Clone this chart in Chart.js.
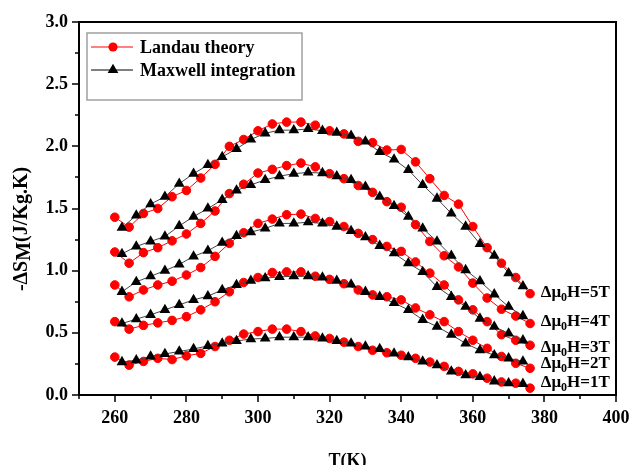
<!DOCTYPE html>
<html>
<head>
<meta charset="utf-8">
<script src="https://cdn.jsdelivr.net/npm/chart.js@4/dist/chart.umd.min.js"></script>
<style>
  html, body { margin: 0; padding: 0; background: #fff; }
  #wrap { width: 634px; height: 465px; position: relative; }
</style>
</head>
<body>
<div id="wrap"><canvas id="ms-chart"></canvas></div>
<script>
// temperatures (K)
const landauT = [260, 264, 268, 272, 276, 280, 284, 288, 292, 296, 300, 304, 308, 312, 316,
                 320, 324, 328, 332, 336, 340, 344, 348, 352, 356, 360, 364, 368, 372, 376];
const maxwellT = [262, 266, 270, 274, 278, 282, 286, 290, 294, 298, 302, 306, 310, 314, 318,
                  322, 326, 330, 334, 338, 342, 346, 350, 354, 358, 362, 366, 370, 374];

// -dS_M (J/kg.K), Landau theory
const landau5T = [1.43, 1.35, 1.46, 1.50, 1.595, 1.645, 1.745, 1.855, 2.00, 2.055, 2.125, 2.18, 2.195, 2.195, 2.17,
                  2.125, 2.10, 2.04, 2.03, 1.97, 1.975, 1.875, 1.74, 1.605, 1.535, 1.355, 1.185, 1.06, 0.945, 0.815];
const landau4T = [1.15, 1.06, 1.145, 1.185, 1.24, 1.295, 1.38, 1.48, 1.62, 1.695, 1.785, 1.815, 1.845, 1.865, 1.835,
                  1.78, 1.74, 1.685, 1.63, 1.555, 1.51, 1.37, 1.235, 1.12, 1.03, 0.90, 0.78, 0.69, 0.635, 0.575];
const landau3T = [0.885, 0.79, 0.845, 0.885, 0.915, 0.965, 1.025, 1.115, 1.22, 1.305, 1.38, 1.415, 1.45, 1.455, 1.42,
                  1.395, 1.355, 1.30, 1.25, 1.195, 1.155, 1.07, 0.98, 0.885, 0.765, 0.685, 0.59, 0.485, 0.44, 0.40];
const landau2T = [0.59, 0.53, 0.56, 0.58, 0.60, 0.63, 0.685, 0.75, 0.83, 0.905, 0.945, 0.985, 0.99, 0.99, 0.955,
                  0.93, 0.895, 0.845, 0.805, 0.79, 0.765, 0.70, 0.645, 0.59, 0.51, 0.44, 0.375, 0.31, 0.255, 0.215];
const landau1T = [0.305, 0.24, 0.27, 0.295, 0.285, 0.315, 0.335, 0.39, 0.44, 0.49, 0.51, 0.53, 0.53, 0.51, 0.475,
                  0.455, 0.425, 0.39, 0.36, 0.34, 0.32, 0.295, 0.265, 0.23, 0.19, 0.17, 0.135, 0.105, 0.095, 0.055];

// -dS_M (J/kg.K), Maxwell integration
const maxwell5T = [1.345, 1.445, 1.535, 1.595, 1.70, 1.78, 1.85, 1.915, 1.98, 2.055, 2.105, 2.13, 2.13, 2.14, 2.125,
                   2.11, 2.085, 2.04, 1.955, 1.895, 1.81, 1.69, 1.58, 1.46, 1.355, 1.215, 1.12, 0.98, 0.875];
const maxwell4T = [1.135, 1.195, 1.235, 1.275, 1.36, 1.435, 1.50, 1.57, 1.645, 1.69, 1.73, 1.76, 1.78, 1.79, 1.785,
                   1.76, 1.73, 1.675, 1.595, 1.52, 1.435, 1.34, 1.235, 1.12, 1.005, 0.915, 0.81, 0.71, 0.635];
const maxwell3T = [0.83, 0.91, 0.955, 1.00, 1.05, 1.115, 1.16, 1.225, 1.28, 1.31, 1.34, 1.38, 1.38, 1.39, 1.38,
                   1.355, 1.32, 1.27, 1.20, 1.14, 1.06, 0.99, 0.87, 0.79, 0.71, 0.615, 0.55, 0.495, 0.44];
const maxwell2T = [0.575, 0.61, 0.645, 0.685, 0.725, 0.765, 0.795, 0.845, 0.885, 0.92, 0.94, 0.95, 0.955, 0.955, 0.945,
                   0.92, 0.89, 0.83, 0.79, 0.74, 0.685, 0.605, 0.55, 0.485, 0.415, 0.36, 0.32, 0.295, 0.27];
const maxwell1T = [0.265, 0.28, 0.31, 0.33, 0.35, 0.37, 0.395, 0.415, 0.435, 0.45, 0.455, 0.465, 0.465, 0.465, 0.455,
                   0.435, 0.415, 0.39, 0.37, 0.335, 0.305, 0.27, 0.24, 0.19, 0.16, 0.145, 0.11, 0.095, 0.09];

const fieldLabels = ['5T', '4T', '3T', '2T', '1T'];
const fieldLabelY = [0.833, 0.60, 0.394, 0.262, 0.115];
const fieldLabelT = 379;

const xTicks = [260, 280, 300, 320, 340, 360, 380, 400];
const yTicks = [0.0, 0.5, 1.0, 1.5, 2.0, 2.5, 3.0];

const legendNames = ['Landau theory', 'Maxwell integration'];

const SERIF = "'Liberation Serif', 'Times New Roman', serif";

const toXY = (ts, vs) => ts.map((t, i) => ({ x: t, y: vs[i] }));

const landauSets = [landau5T, landau4T, landau3T, landau2T, landau1T].map((vals) => ({
    data: toXY(landauT, vals),
    borderColor: '#ff0000',
    borderWidth: 1,
    backgroundColor: '#ff0000',
    pointStyle: 'circle',
    pointRadius: 4.3,
    pointBorderWidth: 1,
    pointBorderColor: '#ff0000',
    pointBackgroundColor: '#ff0000',
    tension: 0,
    order: 2,
}));

const maxwellSets = [maxwell5T, maxwell4T, maxwell3T, maxwell2T, maxwell1T].map((vals) => ({
    data: toXY(maxwellT, vals),
    borderColor: '#444444',
    borderWidth: 1,
    backgroundColor: '#000000',
    pointStyle: 'triangle',
    pointRadius: 6.2,
    pointBorderWidth: 0,
    pointBackgroundColor: '#000000',
    tension: 0,
    order: 1,
}));

// frame, tick marks, legend, y title and field labels
const decorations = {
    id: 'decorations',
    afterDraw(chart) {
        const { ctx, chartArea: a, scales: { x, y } } = chart;
        ctx.save();

        // frame
        ctx.strokeStyle = '#000';
        ctx.lineWidth = 2;
        ctx.strokeRect(a.left, a.top, a.right - a.left, a.bottom - a.top);

        // x tick marks (outward), minor every 10
        ctx.lineWidth = 1.5;
        ctx.beginPath();
        for (let t = 250; t <= 400; t += 10) {
            const px = Math.round(x.getPixelForValue(t));
            const len = t % 20 === 0 ? 7 : 4;
            ctx.moveTo(px, a.bottom);
            ctx.lineTo(px, a.bottom + len);
        }
        // y tick marks (outward), minor every 0.25
        for (let i = 0; i <= 12; i++) {
            const v = i * 0.25;
            const py = Math.round(y.getPixelForValue(v));
            const len = i % 2 === 0 ? 7 : 4;
            ctx.moveTo(a.left, py);
            ctx.lineTo(a.left - len, py);
        }
        ctx.stroke();

        // legend
        const lx = a.left + 8, ly = a.top + 11;
        ctx.fillStyle = '#fff';
        ctx.fillRect(lx, ly, 215, 67);
        ctx.strokeStyle = '#a0a0a0';
        ctx.lineWidth = 1.5;
        ctx.strokeRect(lx, ly, 215, 67);

        const row1 = ly + 14, row2 = ly + 37;
        ctx.lineWidth = 1;
        ctx.strokeStyle = '#ff0000';
        ctx.beginPath();
        ctx.moveTo(lx + 4, row1);
        ctx.lineTo(lx + 46, row1);
        ctx.stroke();
        ctx.fillStyle = '#ff0000';
        ctx.beginPath();
        ctx.arc(lx + 26, row1, 4.6, 0, Math.PI * 2);
        ctx.fill();

        ctx.strokeStyle = '#000';
        ctx.beginPath();
        ctx.moveTo(lx + 4, row2);
        ctx.lineTo(lx + 46, row2);
        ctx.stroke();
        ctx.fillStyle = '#000';
        const r = 6.2, cx = lx + 26;
        ctx.beginPath();
        ctx.moveTo(cx, row2 - r);
        ctx.lineTo(cx + r * Math.sin(2 * Math.PI / 3), row2 - r * Math.cos(2 * Math.PI / 3));
        ctx.lineTo(cx + r * Math.sin(4 * Math.PI / 3), row2 - r * Math.cos(4 * Math.PI / 3));
        ctx.closePath();
        ctx.fill();

        ctx.font = `bold 18px ${SERIF}`;
        ctx.textAlign = 'left';
        ctx.textBaseline = 'middle';
        ctx.fillText(legendNames[0], lx + 53, row1 + 1);
        ctx.fillText(legendNames[1], lx + 53, row2 + 1);

        // field labels on the right
        fieldLabels.forEach((lab, i) => {
            let px = x.getPixelForValue(fieldLabelT);
            const py = y.getPixelForValue(fieldLabelY[i]);
            ctx.font = `bold 17px ${SERIF}`;
            ctx.textBaseline = 'alphabetic';
            const base = py + 6;
            ctx.fillText('\u0394\u03bc', px, base);
            px += ctx.measureText('\u0394\u03bc').width;
            ctx.font = `bold 12px ${SERIF}`;
            ctx.fillText('0', px, base + 4);
            px += ctx.measureText('0').width;
            ctx.font = `bold 17px ${SERIF}`;
            ctx.fillText('H=' + lab, px, base);
        });

        // y axis title
        ctx.translate(22, 229);
        ctx.rotate(-Math.PI / 2);
        ctx.font = `bold 20px ${SERIF}`;
        const p1 = '-\u0394S', p2 = 'M', p3 = '(J/Kg.K)';
        const w1 = ctx.measureText(p1).width;
        const w2 = ctx.measureText(p2).width;
        const w3 = ctx.measureText(p3).width;
        let tx = -(w1 + w2 + w3) / 2;
        ctx.textBaseline = 'middle';
        ctx.fillText(p1, tx, 0);
        tx += w1;
        ctx.fillText(p2, tx, 3);
        tx += w2;
        ctx.fillText(p3, tx, 0);

        ctx.restore();
    },
};

new Chart(document.getElementById('ms-chart'), {
    type: 'line',
    data: { datasets: [...maxwellSets, ...landauSets] },
    options: {
        responsive: true,
        maintainAspectRatio: false,
        animation: false,
        layout: { padding: { left: 0, top: 22, right: 18, bottom: 0 } },
        plugins: {
            legend: { display: false },
            tooltip: { enabled: false },
        },
        scales: {
            x: {
                type: 'linear',
                min: 250,
                max: 400,
                afterBuildTicks: (s) => { s.ticks = xTicks.map((v) => ({ value: v })); },
                afterFit: (s) => { s.height = 70; s.paddingLeft = 0; s.paddingRight = 0; },
                grid: { display: false, drawTicks: false },
                border: { display: false },
                ticks: {
                    color: '#000',
                    padding: 13,
                    maxRotation: 0,
                    font: { family: SERIF, size: 18, weight: 'bold' },
                },
                title: {
                    display: true,
                    text: 'T(K)',
                    color: '#000',
                    font: { family: SERIF, size: 18, weight: 'bold', lineHeight: 1 },
                    padding: { top: 0, bottom: -5 },
                },
            },
            y: {
                type: 'linear',
                min: 0,
                max: 3,
                afterBuildTicks: (s) => { s.ticks = yTicks.map((v) => ({ value: v })); },
                afterFit: (s) => { s.width = 79; },
                grid: { display: false, drawTicks: false },
                border: { display: false },
                ticks: {
                    color: '#000',
                    padding: 11,
                    callback: (v) => Number(v).toFixed(1),
                    font: { family: SERIF, size: 18, weight: 'bold' },
                },
            },
        },
    },
    plugins: [decorations],
});
</script>
</body>
</html>
